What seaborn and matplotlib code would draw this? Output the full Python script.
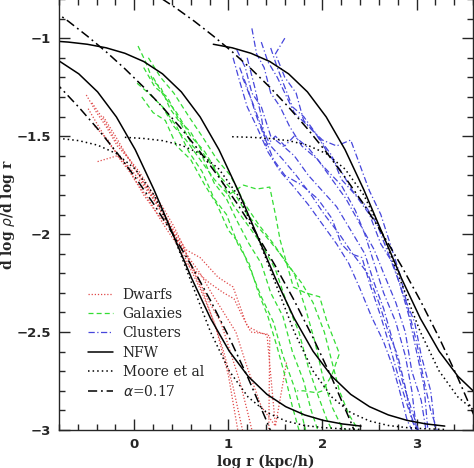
import numpy as np
import pandas as pd
import seaborn as sns
import matplotlib.pyplot as plt
from matplotlib.lines import Line2D
from matplotlib.ticker import MultipleLocator, FuncFormatter

# fitted profile slopes, tabulated against log(r / r_-2)
u_grid = [-2.4, -2.2, -2.0, -1.8, -1.6, -1.4, -1.2, -1.0, -0.8, -0.6, -0.4, -0.2,
          0.0, 0.2, 0.4, 0.6, 0.8, 1.0, 1.2, 1.4, 1.6, 1.8, 2.0]
nfw_slope = [-1.008, -1.013, -1.020, -1.031, -1.049, -1.077, -1.119, -1.182, -1.274,
             -1.402, -1.569, -1.774, -2.000, -2.226, -2.430, -2.598, -2.726, -2.818,
             -2.881, -2.923, -2.951, -2.969, -2.980]
moore_slope = [-1.500, -1.500, -1.501, -1.502, -1.503, -1.506, -1.512, -1.523, -1.546,
               -1.589, -1.668, -1.801, -2.001, -2.250, -2.499, -2.699, -2.832, -2.911,
               -2.954, -2.977, -2.988, -2.994, -2.997]
einasto_slope = [-0.782, -0.845, -0.914, -0.989, -1.069, -1.156, -1.250, -1.352, -1.462,
                 -1.581, -1.710, -1.849, -2.000, -2.163, -2.339, -2.529, -2.735, -2.958,
                 -3.199, -3.460, -3.742, -4.046, -4.376]

halos = ["Dwarfs", "Galaxies", "Clusters"]
log_r2 = [0.41, 1.30, 2.64]
nfw_start = [-2.4, -2.4, -1.8]
moore_start = [-2.4, -1.4, -1.6]
einasto_start = [-2.4, -2.4, -2.4]

# simulated haloes (log r, slope)
dwarf_x = [
    [-0.51, -0.4, -0.3, -0.18, -0.05, 0.1, 0.22, 0.32, 0.45, 0.55, 0.65, 0.8, 0.92, 1.02, 1.12, 1.2, 1.25],
    [-0.39, -0.18, -0.05, 0.08, 0.2, 0.32, 0.42, 0.55, 0.7, 0.89, 1.05, 1.2, 1.32, 1.44, 1.43],
    [-0.49, -0.38, -0.25, -0.12, 0.0, 0.12, 0.25, 0.35, 0.45, 0.58, 0.7, 0.82, 0.95, 1.08, 1.2, 1.35, 1.5, 1.62],
    [-0.45, -0.32, -0.2, -0.08, 0.05, 0.18, 0.3, 0.4, 0.5, 0.62, 0.72, 0.85, 0.95, 1.05, 1.15],
    [-0.42, -0.28, -0.15, -0.02, 0.1, 0.22, 0.35, 0.45, 0.55, 0.68, 0.8, 0.95, 1.06, 1.15, 1.24, 1.41, 1.5],
    [-0.33, -0.2, -0.08, 0.05, 0.18, 0.3, 0.42, 0.52, 0.62, 0.75, 0.88, 1.0, 1.1],
]
dwarf_y = [
    [-1.29, -1.38, -1.45, -1.55, -1.62, -1.74, -1.82, -1.9, -2.02, -2.1, -2.2, -2.35, -2.45, -2.6, -2.75, -2.9, -3.0],
    [-1.63, -1.60, -1.66, -1.74, -1.82, -1.9, -1.98, -2.08, -2.12, -2.22, -2.27, -2.47, -2.5, -2.52, -3.0],
    [-1.36, -1.45, -1.55, -1.62, -1.72, -1.8, -1.9, -1.95, -2.02, -2.12, -2.2, -2.3, -2.4, -2.5, -2.68, -2.88, -2.98, -2.65],
    [-1.33, -1.42, -1.52, -1.6, -1.7, -1.8, -1.9, -1.98, -2.08, -2.2, -2.3, -2.45, -2.6, -2.78, -3.0],
    [-1.45, -1.52, -1.62, -1.7, -1.8, -1.88, -1.98, -2.05, -2.15, -2.2, -2.25, -2.3, -2.33, -2.42, -2.5, -2.51, -2.98],
    [-1.4, -1.5, -1.6, -1.68, -1.78, -1.86, -1.96, -2.06, -2.18, -2.32, -2.5, -2.72, -3.0],
]

galaxy_x = [
    [0.04, 0.12, 0.2, 0.28, 0.38, 0.5, 0.62, 0.72, 0.85, 0.98, 1.1, 1.22, 1.35, 1.45, 1.58, 1.68, 1.8, 1.88, 1.95],
    [0.03, 0.15, 0.3, 0.42, 0.55, 0.7, 0.85, 1.0, 1.16, 1.3, 1.44, 1.5, 1.55, 1.62, 1.69, 1.82, 1.97, 2.05, 2.18, 2.1, 2.0, 1.94, 1.8, 1.73],
    [0.08, 0.2, 0.33, 0.45, 0.6, 0.75, 0.88, 1.0, 1.12, 1.25, 1.35, 1.48, 1.58, 1.7, 1.78, 1.82],
    [0.1, 0.22, 0.35, 0.48, 0.6, 0.75, 0.9, 1.05, 1.2, 1.35, 1.5, 1.62, 1.75, 1.85, 1.95, 2.05, 2.1],
    [0.2, 0.32, 0.45, 0.6, 0.75, 0.9, 1.05, 1.2, 1.38, 1.55, 1.7, 1.82, 1.92, 2.0, 2.1, 2.2, 2.25],
    [0.3, 0.45, 0.58, 0.72, 0.85, 0.98, 1.1, 1.22, 1.32, 1.42, 1.52, 1.6, 1.68, 1.75],
    [0.15, 0.28, 0.42, 0.58, 0.72, 0.88, 1.02, 1.18, 1.32, 1.48, 1.62, 1.78, 1.9, 2.02, 2.1, 2.18, 2.28, 2.38],
]
galaxy_y = [
    [-1.04, -1.12, -1.22, -1.25, -1.36, -1.44, -1.55, -1.6, -1.74, -1.82, -1.94, -2.05, -2.15, -2.3, -2.42, -2.6, -2.75, -2.9, -3.0],
    [-1.23, -1.28, -1.35, -1.45, -1.52, -1.62, -1.72, -1.8, -1.75, -1.77, -1.76, -1.9, -2.03, -2.15, -2.27, -2.3, -2.32, -2.45, -2.61, -2.72, -2.8, -2.81, -2.8, -2.8],
    [-1.3, -1.38, -1.42, -1.55, -1.62, -1.75, -1.85, -1.98, -2.05, -2.2, -2.32, -2.45, -2.62, -2.78, -2.92, -3.0],
    [-1.15, -1.25, -1.3, -1.42, -1.48, -1.6, -1.7, -1.85, -1.95, -2.05, -2.18, -2.35, -2.5, -2.68, -2.82, -2.95, -3.0],
    [-1.2, -1.3, -1.38, -1.5, -1.58, -1.7, -1.78, -1.9, -2.0, -2.1, -2.2, -2.38, -2.55, -2.72, -2.88, -2.98, -3.0],
    [-1.35, -1.45, -1.58, -1.68, -1.82, -1.9, -2.05, -2.15, -2.3, -2.42, -2.58, -2.72, -2.88, -3.0],
    [-1.1, -1.2, -1.28, -1.4, -1.5, -1.62, -1.7, -1.85, -1.95, -2.05, -2.15, -2.25, -2.35, -2.5, -2.65, -2.8, -2.92, -3.0],
]

cluster_x = [
    [1.09, 1.18, 1.25, 1.35, 1.45, 1.58, 1.7, 1.85, 2.0, 2.15, 2.3, 2.45, 2.55, 2.65, 2.75, 2.85, 2.95, 3.02],
    [1.25, 1.3, 1.38, 1.45, 1.55, 1.65, 1.78, 1.95, 2.1, 2.25, 2.4, 2.55, 2.65, 2.78, 2.88, 2.95, 3.05, 3.1],
    [1.6, 1.5, 1.6, 1.72, 1.8, 1.95, 2.1, 2.2, 2.35, 2.5, 2.62, 2.75, 2.85, 2.98, 3.05, 3.15, 3.2],
    [1.2, 1.28, 1.35, 1.4, 1.5, 1.6, 1.7, 1.85, 2.0, 2.2, 2.35, 2.45, 2.55, 2.65, 2.78, 2.88, 2.95, 3.0],
    [1.12, 1.2, 1.3, 1.38, 1.48, 1.6, 1.78, 1.95, 2.1, 2.2, 2.3, 2.42, 2.5, 2.62, 2.72, 2.82, 2.92, 3.0],
    [1.35, 1.42, 1.52, 1.62, 1.7, 1.85, 2.0, 2.15, 2.3, 2.4, 2.5, 2.62, 2.72, 2.82, 2.92, 3.0, 3.08, 3.15, 3.22],
    [1.15, 1.25, 1.35, 1.45, 1.58, 1.72, 1.88, 2.02, 2.18, 2.32, 2.48, 2.6, 2.7, 2.8, 2.88, 2.95, 3.0],
    [1.45, 1.52, 1.6, 1.68, 1.8, 1.92, 2.05, 2.2, 2.32, 2.45, 2.58, 2.7, 2.82, 2.92, 3.0, 3.08, 3.12],
    [1.05, 1.12, 1.2, 1.3, 1.42, 1.55, 1.68, 1.85, 2.0, 2.15, 2.28, 2.4, 2.52, 2.65, 2.75, 2.82, 2.9, 2.95],
]
cluster_y = [
    [-1.06, -1.15, -1.28, -1.35, -1.5, -1.55, -1.6, -1.7, -1.78, -1.86, -1.98, -2.1, -2.25, -2.38, -2.55, -2.75, -2.9, -3.0],
    [-0.95, -1.08, -1.15, -1.28, -1.35, -1.45, -1.55, -1.62, -1.72, -1.82, -1.95, -2.08, -2.2, -2.35, -2.5, -2.7, -2.85, -3.0],
    [-1.0, -1.08, -1.2, -1.28, -1.42, -1.5, -1.6, -1.72, -1.8, -1.9, -2.05, -2.15, -2.3, -2.45, -2.62, -2.8, -3.0],
    [-1.1, -1.25, -1.4, -1.55, -1.5, -1.55, -1.5, -1.56, -1.65, -1.75, -1.88, -2.0, -2.15, -2.3, -2.45, -2.62, -2.8, -3.0],
    [-1.15, -1.25, -1.4, -1.5, -1.62, -1.7, -1.75, -1.82, -1.92, -2.05, -2.1, -2.12, -2.25, -2.42, -2.58, -2.75, -2.9, -3.0],
    [-1.02, -1.12, -1.2, -1.3, -1.38, -1.45, -1.52, -1.55, -1.52, -1.65, -1.78, -1.9, -2.05, -2.2, -2.4, -2.55, -2.75, -2.9, -3.0],
    [-1.2, -1.32, -1.45, -1.55, -1.62, -1.7, -1.8, -1.9, -2.0, -2.1, -2.2, -2.35, -2.5, -2.62, -2.78, -2.95, -3.0],
    [-1.05, -1.15, -1.25, -1.35, -1.4, -1.48, -1.58, -1.68, -1.78, -1.85, -1.95, -2.1, -2.25, -2.42, -2.6, -2.78, -3.0],
    [-1.1, -1.22, -1.35, -1.45, -1.58, -1.68, -1.75, -1.85, -1.95, -2.05, -2.15, -2.28, -2.42, -2.55, -2.68, -2.8, -2.95, -3.0],
]

data_colors = {"Dwarfs": "#e04848", "Galaxies": "#33dd33", "Clusters": "#4646dc"}
data_styles = {"Dwarfs": (0, (1, 1.5)), "Galaxies": (0, (4, 2.5)), "Clusters": (0, (5, 2, 1, 2))}
dashdot = (0, (6, 2.5, 1.2, 2.5))


def to_frame(xs, ys):
    rows = []
    for i, (x, y) in enumerate(zip(xs, ys)):
        for a, b in zip(x, y):
            rows.append({"unit": i, "logr": a, "slope": b})
    return pd.DataFrame(rows)


sns.set_style("ticks")
plt.rcParams['font.family'] = ['DejaVu Sans']
plt.rcParams['axes.unicode_minus'] = True

fig = plt.figure(figsize=(4.74, 4.68), dpi=100)
ax = fig.add_axes([59 / 474, 38 / 468, 414 / 474, 431 / 468])

for name, xs, ys in [("Dwarfs", dwarf_x, dwarf_y), ("Galaxies", galaxy_x, galaxy_y),
                     ("Clusters", cluster_x, cluster_y)]:
    sns.lineplot(data=to_frame(xs, ys), x="logr", y="slope", units="unit",
                 estimator=None, sort=False, color=data_colors[name],
                 linestyle=data_styles[name], lw=0.9, legend=False, ax=ax)

u = np.array(u_grid)
for i, name in enumerate(halos):
    for slope, start, ls in [(nfw_slope, nfw_start[i], "-"),
                             (moore_slope, moore_start[i], (0, (1, 2))),
                             (einasto_slope, einasto_start[i], dashdot)]:
        keep = u >= start - 1e-9
        curve = pd.DataFrame({"logr": u[keep] + log_r2[i], "slope": np.array(slope)[keep]})
        sns.lineplot(data=curve, x="logr", y="slope", sort=False, estimator=None,
                     color="black", linestyle=ls, lw=1.1, ax=ax)

ax.set_xlim(-0.8, 3.6)
ax.set_ylim(-3.0, -0.8)
ax.xaxis.set_major_locator(MultipleLocator(1))
ax.xaxis.set_minor_locator(MultipleLocator(0.2))
ax.yaxis.set_major_locator(MultipleLocator(0.5))
ax.yaxis.set_minor_locator(MultipleLocator(0.1))
fmt = FuncFormatter(lambda v, p: ("%g" % round(v, 2)).replace("-", "\u2212"))
ax.xaxis.set_major_formatter(fmt)
ax.yaxis.set_major_formatter(fmt)
ax.tick_params(which="both", direction="in", top=True, right=True, width=1.0,
               labelsize=9.5)
ax.tick_params(which="major", length=8, pad=6)
ax.tick_params(which="minor", length=4)
for lab in ax.get_xticklabels() + ax.get_yticklabels():
    lab.set_fontweight("bold")
for s in ax.spines.values():
    s.set_linewidth(1.0)
ax.spines["top"].set_visible(False)

ax.set_xlabel("log r (kpc/h)", family="DejaVu Serif", fontweight="bold", fontsize=10)
ax.set_ylabel(r"d log $\rho$/d log r", family="DejaVu Serif", fontweight="bold", fontsize=10)
ax.xaxis.set_label_coords(0.5, -0.058)
ax.yaxis.set_label_coords(-0.102, 0.5)

handles = [
    Line2D([], [], color=data_colors["Dwarfs"], ls=data_styles["Dwarfs"], lw=0.9),
    Line2D([], [], color=data_colors["Galaxies"], ls=data_styles["Galaxies"], lw=0.9),
    Line2D([], [], color=data_colors["Clusters"], ls=data_styles["Clusters"], lw=0.9),
    Line2D([], [], color="black", ls="-", lw=1.1),
    Line2D([], [], color="black", ls=(0, (1, 2)), lw=1.1),
    Line2D([], [], color="black", ls=dashdot, lw=1.1),
]
labels = ["Dwarfs", "Galaxies", "Clusters", "NFW", "Moore et al", r"$\alpha$=0.17"]
ax.legend(handles, labels, loc="upper left", bbox_to_anchor=(0.07, 0.33),
          frameon=False, borderpad=0, borderaxespad=0, handlelength=1.8,
          handletextpad=0.7, labelspacing=0.38, prop={"family": "DejaVu Serif", "size": 10})

fig.savefig("out.png", dpi=100)
